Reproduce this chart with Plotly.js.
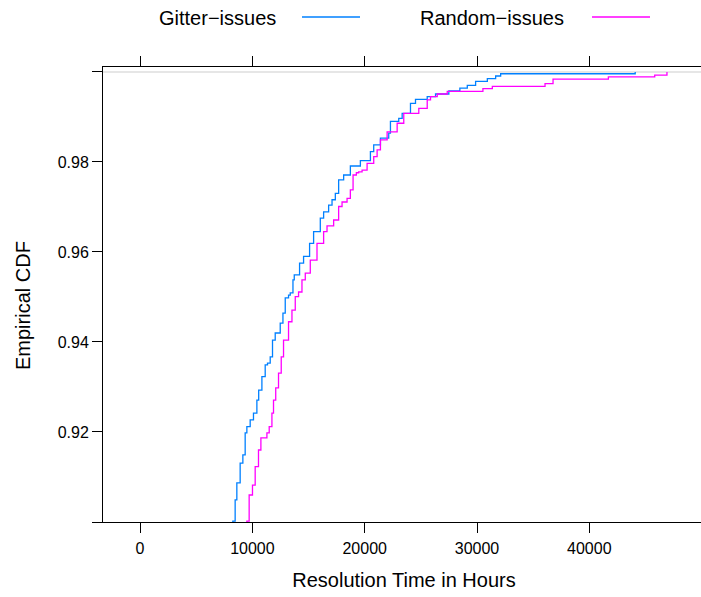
<!DOCTYPE html>
<html><head><meta charset="utf-8">
<script src="https://cdn.plot.ly/plotly-3.0.1.min.js"></script>
<style>html,body{margin:0;padding:0;overflow:hidden;background:#fff}#chart{width:705px;height:597px}</style>
</head><body><div id="chart"></div>
<script>
const seriesNames = ["Gitter\u2212issues", "Random\u2212issues"];
const seriesColors = ["#0080ff", "#ff00ff"];
const gitterHours = [8100, 8260, 8466, 8617, 8912, 9153, 9358, 9509, 9804, 10098, 10401, 10562, 10848, 11142, 11347, 11588, 11793, 12034, 12480, 12721, 12926, 13220, 13372, 13613, 13729, 14202, 14558, 15094, 15451, 16048, 16343, 16789, 17092, 17386, 17681, 18127, 18724, 19616, 20509, 20803, 21401, 22141, 22293, 23033, 23336, 24077, 24523, 25567, 26307, 27493, 28474, 29135, 29875, 30919, 31659, 32105, 44086];
const gitterCDF = [0.8965, 0.9002, 0.9049, 0.9087, 0.9131, 0.9149, 0.9198, 0.9212, 0.9227, 0.9242, 0.9271, 0.9293, 0.9323, 0.9349, 0.9353, 0.9367, 0.9404, 0.9420, 0.9442, 0.9464, 0.9498, 0.9504, 0.9509, 0.9538, 0.9549, 0.9575, 0.9590, 0.9619, 0.9645, 0.9675, 0.9689, 0.9704, 0.9716, 0.9730, 0.9760, 0.9771, 0.9791, 0.9803, 0.9823, 0.9838, 0.9853, 0.9864, 0.9890, 0.9897, 0.9908, 0.9930, 0.9939, 0.9945, 0.9951, 0.9958, 0.9964, 0.9970, 0.9979, 0.9985, 0.9991, 0.9996, 1.0];
const randomHours = [9350, 9510, 9714, 10009, 10250, 10544, 10758, 11294, 11499, 11740, 11882, 12078, 12328, 12569, 12774, 13220, 13524, 13818, 14112, 14416, 14710, 15156, 15754, 16343, 16646, 17235, 17681, 17984, 18430, 18724, 18965, 19260, 19465, 19768, 20214, 20803, 21106, 21401, 21998, 22890, 23479, 24817, 25567, 25861, 26459, 27351, 30526, 31365, 36057, 36771, 41696, 45825, 46913];
const randomCDF = [0.8965, 0.9002, 0.9060, 0.9082, 0.9123, 0.9160, 0.9187, 0.9198, 0.9212, 0.9242, 0.9271, 0.9298, 0.9331, 0.9367, 0.9404, 0.9445, 0.9471, 0.9501, 0.9511, 0.9538, 0.9553, 0.9582, 0.9619, 0.9645, 0.9658, 0.9671, 0.9701, 0.9711, 0.9719, 0.9738, 0.9771, 0.9776, 0.9778, 0.9782, 0.9797, 0.9812, 0.9827, 0.9849, 0.9867, 0.9886, 0.9908, 0.9919, 0.9938, 0.9945, 0.9951, 0.9957, 0.9963, 0.9968, 0.9974, 0.9984, 0.9989, 0.9993, 1.0];
const xTickValues = [0, 10000, 20000, 30000, 40000];
const xTickLabels = ["0", "10000", "20000", "30000", "40000"];
const yTickValues = [0.90, 0.92, 0.94, 0.96, 0.98, 1.00];
const yTickLabels = ["", "0.92", "0.94", "0.96", "0.98", ""];
const xTitle = "Resolution Time in Hours";
const yTitle = "Empirical CDF";
const refLevel = 1;

const W = 705, H = 597, L = 103, R = 0, T = 67, B = 75;
const pw = W - L - R, ph = H - T - B;
const px2paperX = p => (p - L) / pw;
const py2paperY = p => (H - B - p) / ph;

const FONT = "Liberation Sans, Arial, Helvetica, sans-serif";

const traces = [
  {x: gitterHours, y: gitterCDF, name: seriesNames[0], type: "scatter", mode: "lines",
   line: {color: seriesColors[0], width: 1.3, shape: "hv"}},
  {x: randomHours, y: randomCDF, name: seriesNames[1], type: "scatter", mode: "lines",
   line: {color: seriesColors[1], width: 1.3, shape: "hv"}}
];

const legendTextX = [157, 418];
const legendLineX = [[302, 360], [592, 650]];
const legendY = 18;

const annotations = seriesNames.map((n, i) => ({
  text: n, xref: "paper", yref: "paper", x: px2paperX(legendTextX[i]), y: py2paperY(legendY),
  xanchor: "left", yanchor: "middle", showarrow: false, font: {family: FONT, size: 20, color: "#000"}
})).concat([{
  text: yTitle, xref: "paper", yref: "paper", x: px2paperX(23), y: py2paperY(306),
  xanchor: "center", yanchor: "middle", textangle: -90, showarrow: false,
  font: {family: FONT, size: 20, color: "#000"}
}]);

const shapes = [
  {type: "line", xref: "paper", yref: "y", x0: 0, x1: 1, y0: refLevel, y1: refLevel,
   line: {color: "#e6e6e6", width: 2}, layer: "below"}
].concat(seriesNames.map((n, i) => ({
  type: "line", xref: "paper", yref: "paper",
  x0: px2paperX(legendLineX[i][0]), x1: px2paperX(legendLineX[i][1]),
  y0: py2paperY(legendY - 1), y1: py2paperY(legendY - 1),
  line: {color: seriesColors[i], width: 1.3}
})));

const layout = {
  width: W, height: H,
  margin: {l: L, r: R, t: T, b: B, pad: 0},
  paper_bgcolor: "#fff", plot_bgcolor: "#fff",
  showlegend: false,
  font: {family: FONT, color: "#000"},
  xaxis: {
    range: [-3300, 50300], tickvals: xTickValues, ticktext: xTickLabels,
    ticks: "outside", ticklen: 10, tickcolor: "#000", tickwidth: 1,
    showline: true, linecolor: "#000", linewidth: 1, mirror: "allticks",
    showgrid: false, zeroline: false, ticklabelstandoff: 2,
    tickfont: {family: FONT, size: 16, color: "#000"},
    title: {text: xTitle, font: {family: FONT, size: 20, color: "#000"}, standoff: 16}
  },
  yaxis: {
    range: [0.9, 1.0011], tickvals: yTickValues, ticktext: yTickLabels,
    ticks: "outside", ticklen: 10, tickcolor: "#000", tickwidth: 1,
    showline: true, linecolor: "#000", linewidth: 1, mirror: "allticks",
    showgrid: false, zeroline: false,
    tickfont: {family: FONT, size: 16, color: "#000"}
  },
  annotations: annotations,
  shapes: shapes
};

Plotly.newPlot("chart", traces, layout, {displayModeBar: false, staticPlot: true});
</script>
</body></html>
